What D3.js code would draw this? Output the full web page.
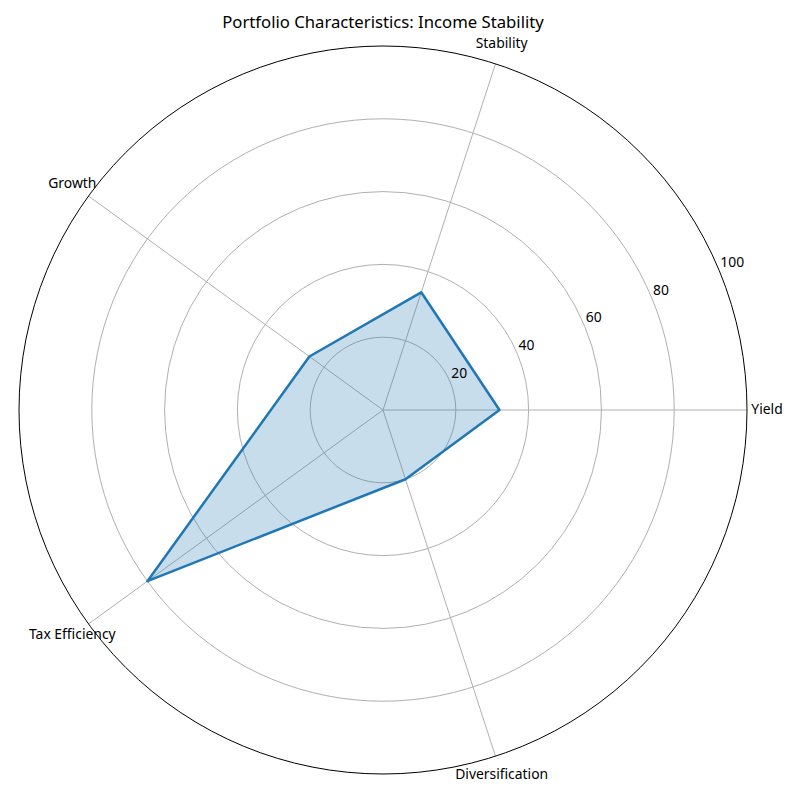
<!DOCTYPE html>
<html>
<head>
<meta charset="utf-8">
<script src="https://cdn.jsdelivr.net/npm/d3@7"></script>
<style>
    body { margin: 0; background: #fff; }
    text { font-family: "Noto Sans", "DejaVu Sans", sans-serif; fill: #000; }
</style>
</head>
<body>
<div id="chart"></div>
<script>
// chart data
var categories = ["Yield", "Stability", "Growth", "Tax Efficiency", "Diversification"];
var values = [32, 34, 25, 80, 20];
var rTicks = [20, 40, 60, 80, 100];
var title = "Portfolio Characteristics: Income Stability";

(function () {
    "use strict";

    var width = 800,
        height = 800,
        cx = 383,
        cy = 410,
        outer = 364;

    var svg = d3.select("#chart").append("svg")
        .attr("width", width)
        .attr("height", height);

    var r = d3.scaleLinear().domain([0, 100]).range([0, outer]);
    // angle 0 = right, counter-clockwise like matplotlib polar
    var angle = d3.scaleLinear().domain([0, categories.length]).range([0, 2 * Math.PI]);

    var px = function (a, rad) { return cx + rad * Math.cos(a); };
    var py = function (a, rad) { return cy - rad * Math.sin(a); };

    var g = svg.append("g");

    // grid circles
    g.selectAll("circle.grid")
        .data(rTicks.slice(0, -1))
        .enter().append("circle")
        .attr("class", "grid")
        .attr("cx", cx).attr("cy", cy)
        .attr("r", function (d) { return r(d); })
        .style("fill", "none")
        .style("stroke", "#b0b0b0")
        .style("stroke-width", 1);

    // spokes
    g.selectAll("line.spoke")
        .data(categories)
        .enter().append("line")
        .attr("class", "spoke")
        .attr("x1", cx).attr("y1", cy)
        .attr("x2", function (d, i) { return px(angle(i), outer); })
        .attr("y2", function (d, i) { return py(angle(i), outer); })
        .style("stroke", "#b0b0b0")
        .style("stroke-width", 1);

    // data polygon
    var line = d3.lineRadial()
        .angle(function (d, i) { return Math.PI / 2 - angle(i); })
        .radius(function (d) { return r(d); })
        .curve(d3.curveLinearClosed);

    var dataG = g.append("g").attr("transform", "translate(" + cx + "," + cy + ")");
    dataG.append("path")
        .datum(values)
        .attr("d", line)
        .style("fill", "#1f77b4")
        .style("fill-opacity", 0.25)
        .style("stroke", "none");
    dataG.append("path")
        .datum(values)
        .attr("d", line)
        .style("fill", "none")
        .style("stroke", "#1f77b4")
        .style("stroke-width", 2.5)
        .style("stroke-linejoin", "round");

    // outer frame
    g.append("circle")
        .attr("cx", cx).attr("cy", cy)
        .attr("r", outer)
        .style("fill", "none")
        .style("stroke", "#000")
        .style("stroke-width", 1);

    // radial tick labels at 22.5 deg
    var la = 22.5 * Math.PI / 180;
    g.selectAll("text.rtick")
        .data(rTicks)
        .enter().append("text")
        .attr("class", "rtick")
        .attr("x", function (d) { return px(la, r(d)) + 1; })
        .attr("y", function (d) { return py(la, r(d)) - 4; })
        .style("font-size", "13.9px")
        .text(function (d) { return d; });

    // category labels
    g.selectAll("text.cat")
        .data(categories)
        .enter().append("text")
        .attr("class", "cat")
        .attr("x", function (d, i) { return px(angle(i), outer + 20); })
        .attr("y", function (d, i) { return py(angle(i), outer + 20) - 2; })
        .attr("text-anchor", "middle")
        .attr("dominant-baseline", "central")
        .style("font-size", "13.9px")
        .text(function (d) { return d; });

    // title
    svg.append("text")
        .attr("x", cx)
        .attr("y", 28)
        .attr("text-anchor", "middle")
        .style("font-size", "16.7px")
        .text(title);
}());
</script>
</body>
</html>
